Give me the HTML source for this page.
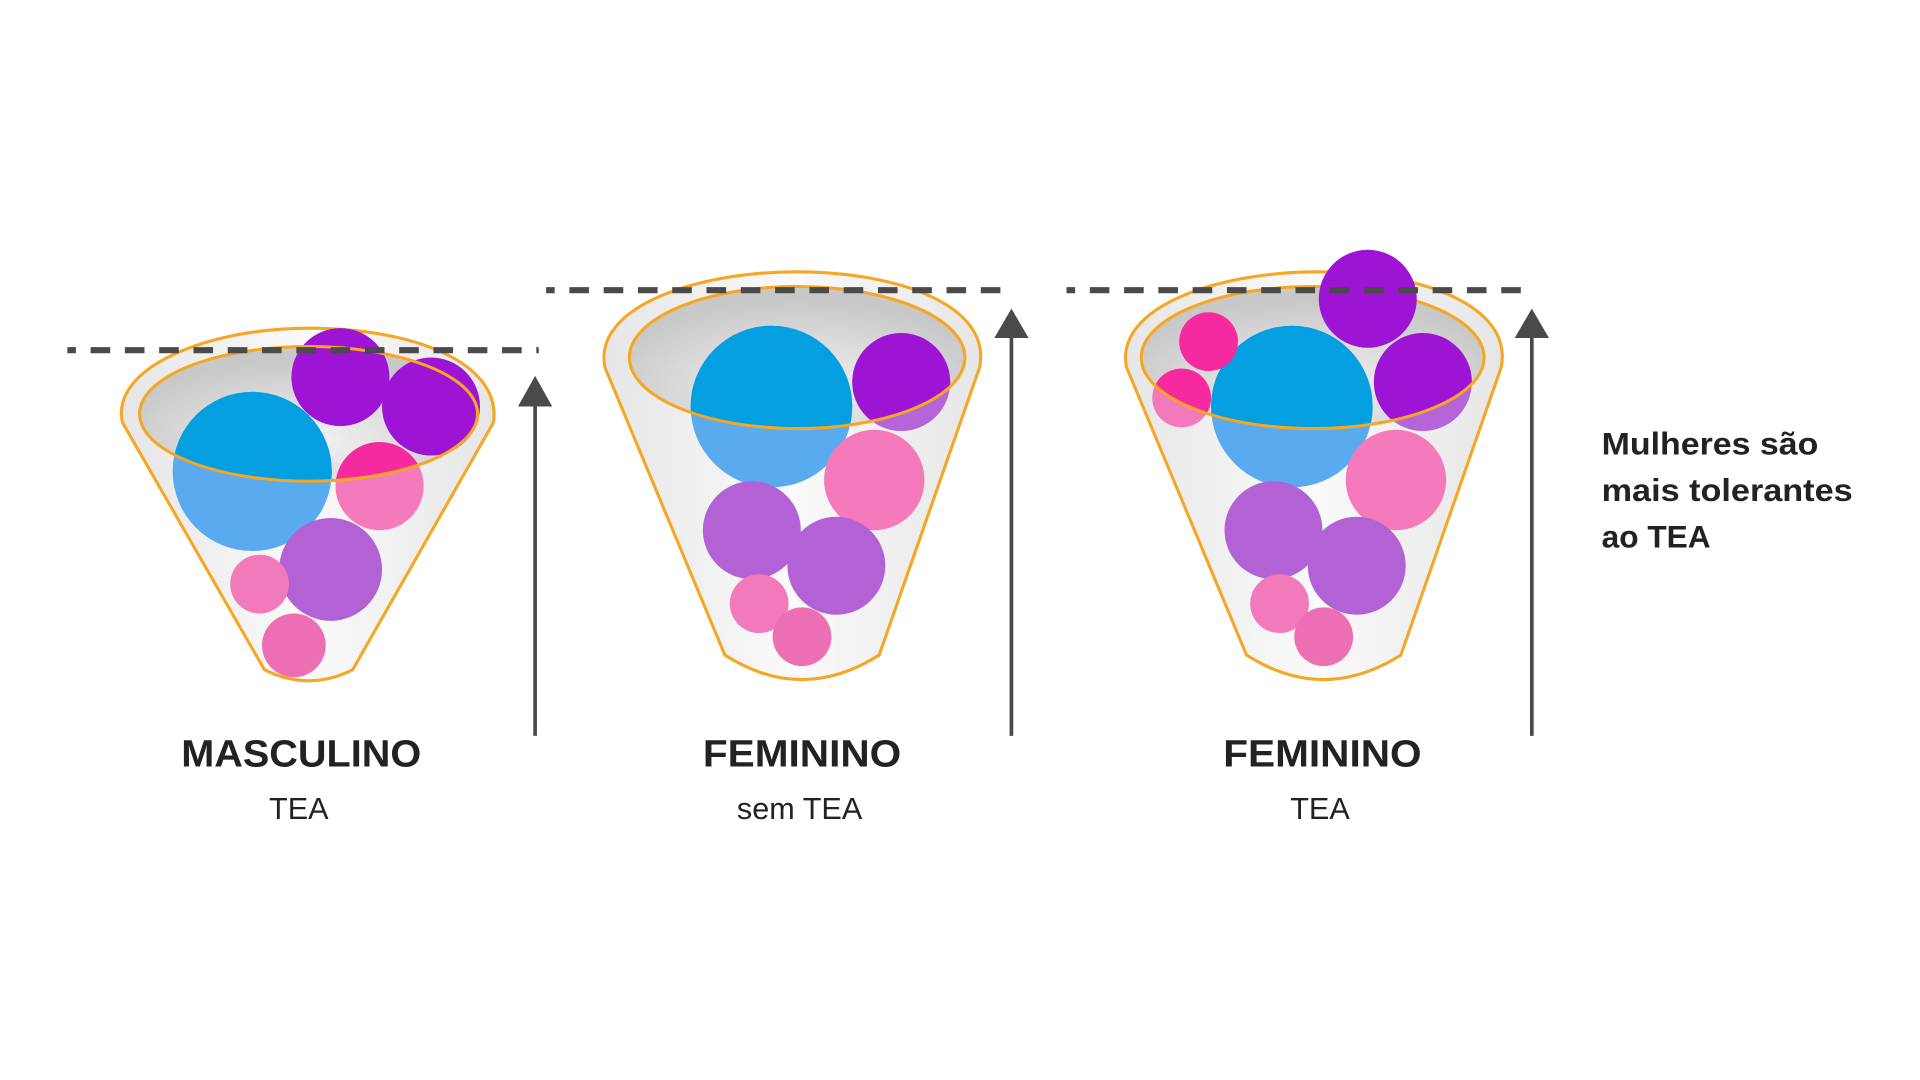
<!DOCTYPE html>
<html><head><meta charset="utf-8"><style>
html,body{margin:0;padding:0;background:#fff;width:1920px;height:1080px;overflow:hidden}
svg{display:block}
text{font-family:"Liberation Sans",sans-serif;fill:#222}
</style></head><body>
<svg width="1920" height="1080" viewBox="0 0 1568 882" xmlns="http://www.w3.org/2000/svg">
<defs>
<linearGradient id="cupg" x1="0" x2="1" y1="0" y2="0">
<stop offset="0" stop-color="#e6e6e6"/><stop offset="0.5" stop-color="#fafafa"/><stop offset="1" stop-color="#e6e6e6"/></linearGradient>
<radialGradient id="ing" cx="0.5" cy="0.7" r="0.6">
<stop offset="0" stop-color="#f2f2f2"/><stop offset="1" stop-color="#c8c8c8"/></radialGradient>
<clipPath id="c1"><ellipse cx="252" cy="338" rx="138" ry="55"/></clipPath>
<clipPath id="c2"><ellipse cx="651" cy="292" rx="137" ry="58"/></clipPath>
<clipPath id="c3"><ellipse cx="1072" cy="292" rx="140" ry="58"/></clipPath>
</defs>

<!-- Cup 1 -->
<path d="M100,345 C90,300 170,268 252,268 C335,268 410,295 403,345 L288,547 Q252,565 216,547 Z" fill="url(#cupg)" stroke="#f5a623" stroke-width="2.5"/>
<ellipse cx="252" cy="338" rx="138" ry="55" fill="url(#ing)"/>
<circle cx="206" cy="385" r="65" fill="#5aaaf0"/>
<circle cx="310" cy="397" r="36" fill="#f47abb"/>
<circle cx="270" cy="465" r="42" fill="#b362d6"/>
<circle cx="212" cy="477" r="24" fill="#f27abb"/>
<circle cx="240" cy="527" r="26" fill="#ec6fb3"/>
<circle cx="278" cy="308" r="40" fill="#9d14d4"/>
<circle cx="352" cy="332" r="40" fill="#9d14d4"/>
<g clip-path="url(#c1)">
<circle cx="206" cy="385" r="65" fill="#049fe0"/>
<circle cx="310" cy="397" r="36" fill="#f52a9e"/>
</g>
<ellipse cx="252" cy="338" rx="138" ry="55" fill="none" stroke="#f5a623" stroke-width="2.5"/>
<line x1="55" y1="286" x2="440" y2="286" stroke="#4a4a4a" stroke-width="5" stroke-dasharray="7 12 16 12 16 12 16 12 16 12 16 12 16 12 16 12 16 12 16 12 16 12 16 12 16 12 16 12 16 12 7"/>
<line x1="437" y1="330" x2="437" y2="601" stroke="#4a4a4a" stroke-width="3"/>
<polygon points="437,307 423,332 451,332" fill="#4a4a4a"/>
<text x="246" y="626" font-size="31" font-weight="bold" text-anchor="middle" textLength="196" lengthAdjust="spacingAndGlyphs">MASCULINO</text>
<text x="244" y="669" font-size="25" text-anchor="middle">TEA</text>

<!-- Cup 2 -->
<path d="M494,300 C484,250 570,222 650,222 C735,222 810,250 800,300 L718,535 Q655,575 592,535 Z" fill="url(#cupg)" stroke="#f5a623" stroke-width="2.5"/>
<ellipse cx="651" cy="292" rx="137" ry="58" fill="url(#ing)"/>
<circle cx="630" cy="332" r="66" fill="#5aaaf0"/>
<circle cx="714" cy="392" r="41" fill="#f47abb"/>
<circle cx="614" cy="433" r="40" fill="#b362d6"/>
<circle cx="683" cy="462" r="40" fill="#b362d6"/>
<circle cx="620" cy="493" r="24" fill="#f27abb"/>
<circle cx="655" cy="520" r="24" fill="#ec6fb3"/>
<circle cx="736" cy="312" r="40" fill="#b565d8"/>
<g clip-path="url(#c2)">
<circle cx="630" cy="332" r="66" fill="#049fe0"/>
<circle cx="736" cy="312" r="40" fill="#9d14d4"/>
</g>
<ellipse cx="651" cy="292" rx="137" ry="58" fill="none" stroke="#f5a623" stroke-width="2.5"/>
<line x1="446" y1="237" x2="828" y2="237" stroke="#4a4a4a" stroke-width="5" stroke-dasharray="7 12 16 12 16 12 16 12 16 12 16 12 16 12 16 12 16 12 16 12 16 12 16 12 16 12 16 12 16 12 7"/>
<line x1="826" y1="274" x2="826" y2="601" stroke="#4a4a4a" stroke-width="3"/>
<polygon points="826,252 812,276 840,276" fill="#4a4a4a"/>
<text x="655" y="626" font-size="31" font-weight="bold" text-anchor="middle" textLength="162" lengthAdjust="spacingAndGlyphs">FEMININO</text>
<text x="653" y="669" font-size="25" text-anchor="middle">sem TEA</text>

<!-- Cup 3 -->
<path d="M920,300 C910,250 996,222 1076,222 C1161,222 1236,250 1226,300 L1144,535 Q1081,575 1018,535 Z" fill="url(#cupg)" stroke="#f5a623" stroke-width="2.5"/>
<ellipse cx="1072" cy="292" rx="140" ry="58" fill="url(#ing)"/>
<circle cx="1055" cy="332" r="66" fill="#5aaaf0"/>
<circle cx="1140" cy="392" r="41" fill="#f47abb"/>
<circle cx="1040" cy="433" r="40" fill="#b362d6"/>
<circle cx="1108" cy="462" r="40" fill="#b362d6"/>
<circle cx="1045" cy="493" r="24" fill="#f27abb"/>
<circle cx="1081" cy="520" r="24" fill="#ec6fb3"/>
<circle cx="1162" cy="312" r="40" fill="#b565d8"/>
<circle cx="965" cy="325" r="24" fill="#f27abb"/>
<g clip-path="url(#c3)">
<circle cx="1055" cy="332" r="66" fill="#049fe0"/>
<circle cx="1162" cy="312" r="40" fill="#9d14d4"/>
<circle cx="965" cy="325" r="24" fill="#f52a9e"/>
</g>
<circle cx="987" cy="279" r="24" fill="#f52a9e"/>
<ellipse cx="1072" cy="292" rx="140" ry="58" fill="none" stroke="#f5a623" stroke-width="2.5"/>
<circle cx="1117" cy="244" r="40" fill="#9d14d4"/>
<line x1="871" y1="237" x2="1253" y2="237" stroke="#4a4a4a" stroke-width="5" stroke-dasharray="7 12 16 12 16 12 16 12 16 12 16 12 16 12 16 12 16 12 16 12 16 12 16 12 16 12 16 12 16 12 7"/>
<line x1="1251" y1="274" x2="1251" y2="601" stroke="#4a4a4a" stroke-width="3"/>
<polygon points="1251,252 1237,276 1265,276" fill="#4a4a4a"/>
<text x="1080" y="626" font-size="31" font-weight="bold" text-anchor="middle" textLength="162" lengthAdjust="spacingAndGlyphs">FEMININO</text>
<text x="1078" y="669" font-size="25" text-anchor="middle">TEA</text>

<g font-size="26" font-weight="bold">
<text x="1308" y="371" fill="#2a2a2a" textLength="177" lengthAdjust="spacingAndGlyphs">Mulheres são</text>
<text x="1308" y="409" fill="#2a2a2a" textLength="205" lengthAdjust="spacingAndGlyphs">mais tolerantes</text>
<text x="1308" y="447" fill="#2a2a2a" textLength="89" lengthAdjust="spacingAndGlyphs">ao TEA</text>
</g>
</svg>
</body></html>
